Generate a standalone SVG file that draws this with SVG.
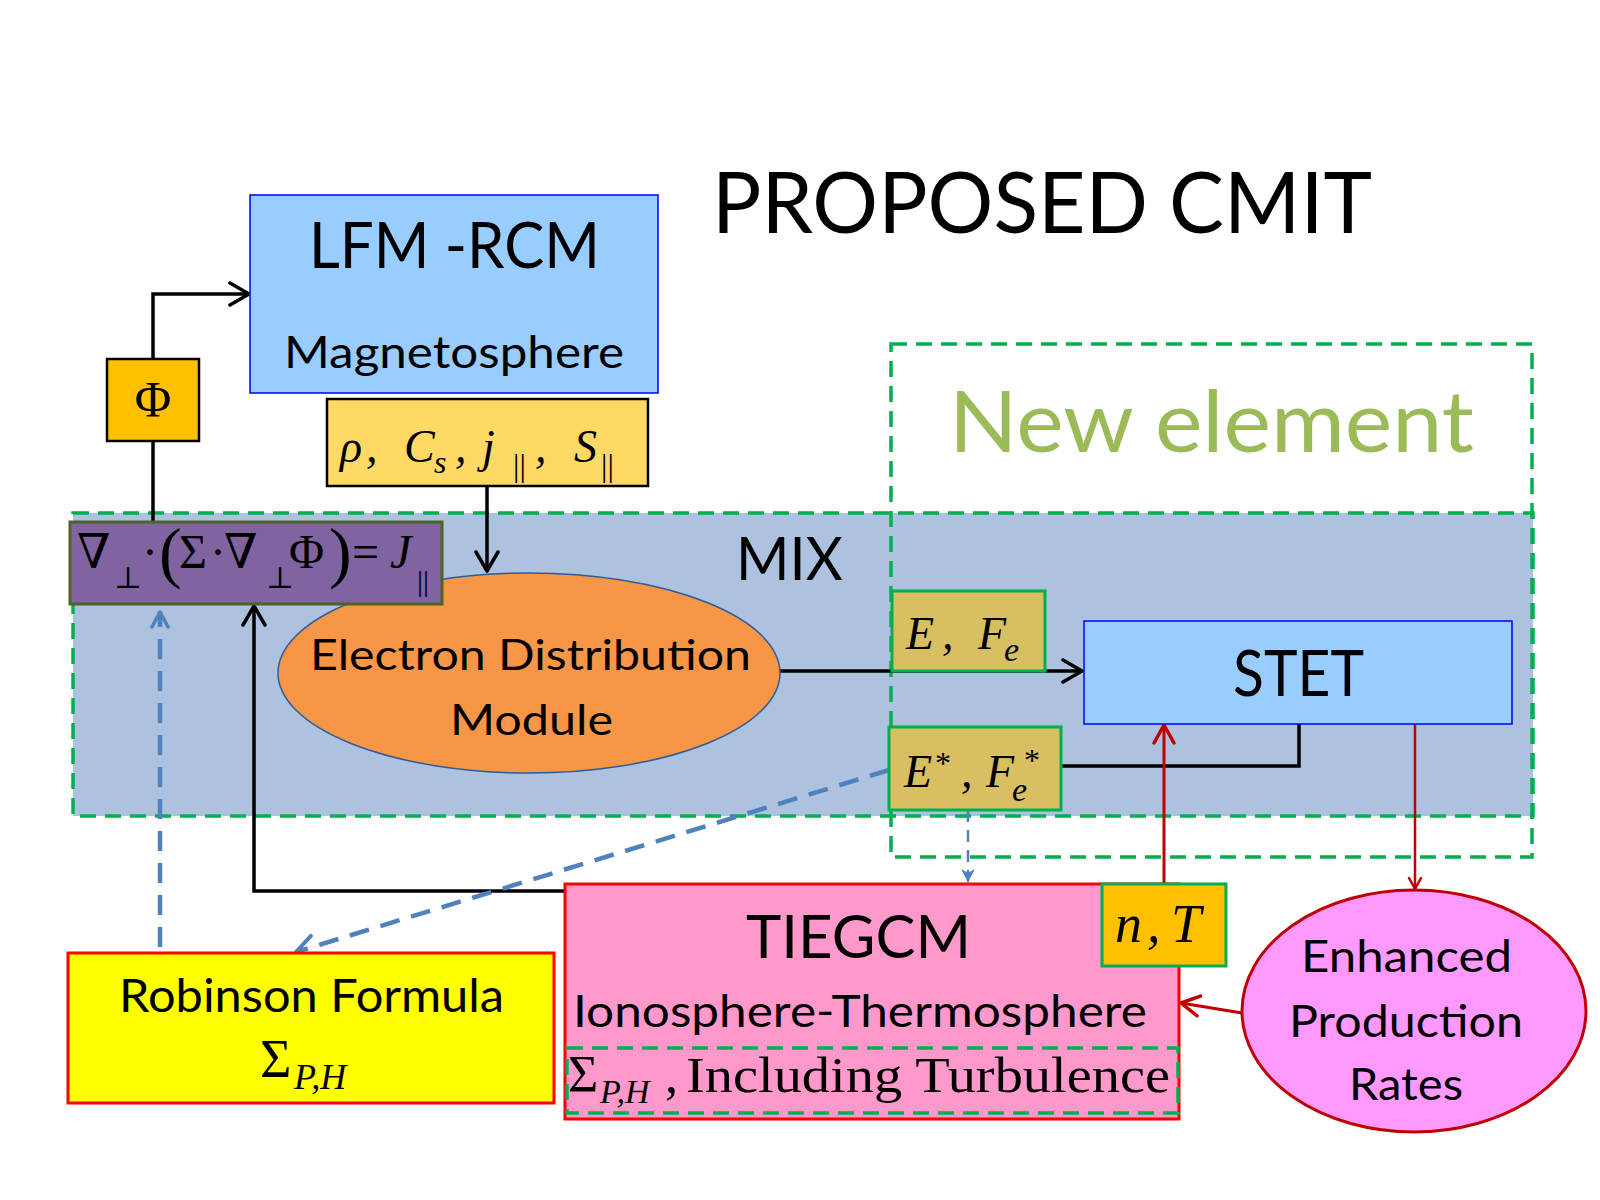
<svg xmlns="http://www.w3.org/2000/svg" width="1600" height="1200" viewBox="0 0 1600 1200">
<style>
.sans{font-family:Lato,"Liberation Sans",sans-serif;fill:#000}
.math{font-family:"Liberation Serif","DejaVu Serif",serif;fill:#000}
.it{font-style:italic}
.bk{fill:none;stroke:#000;stroke-width:3.5}
.rd{fill:none;stroke:#C00000;stroke-width:3}
.bl{fill:none;stroke:#4F81BD;stroke-width:4.5;stroke-dasharray:20 12}
.gdash{fill:none;stroke:#00B050;stroke-width:3.5;stroke-dasharray:16 9}
</style>
<defs>
<marker id="ab" markerUnits="userSpaceOnUse" markerWidth="30" markerHeight="30" refX="22" refY="13" orient="auto">
<path d="M3,2 L22,13 L3,24" fill="none" stroke="#000" stroke-width="3.5" stroke-linecap="round" stroke-linejoin="round"/>
</marker>
<marker id="ar" markerUnits="userSpaceOnUse" markerWidth="30" markerHeight="30" refX="22" refY="13" orient="auto">
<path d="M4,3 L22,13 L4,23" fill="none" stroke="#C00000" stroke-width="3.5" stroke-linecap="round" stroke-linejoin="round"/>
</marker>
<marker id="ars" markerUnits="userSpaceOnUse" markerWidth="20" markerHeight="20" refX="14" refY="8" orient="auto">
<path d="M3,2 L14,8 L3,14" fill="none" stroke="#C00000" stroke-width="2.5" stroke-linecap="round" stroke-linejoin="round"/>
</marker>
<marker id="abl" markerUnits="userSpaceOnUse" markerWidth="30" markerHeight="30" refX="22" refY="13" orient="auto">
<path d="M3,2 L22,13 L3,24" fill="none" stroke="#4F81BD" stroke-width="4" stroke-linecap="round" stroke-linejoin="round"/>
</marker>
<marker id="abls" markerUnits="userSpaceOnUse" markerWidth="24" markerHeight="24" refX="18" refY="10" orient="auto">
<path d="M3,2 L18,10 L3,18" fill="none" stroke="#4F81BD" stroke-width="3.5" stroke-linecap="round" stroke-linejoin="round"/>
</marker>
<marker id="ablf" markerUnits="userSpaceOnUse" markerWidth="20" markerHeight="20" refX="13" refY="7" orient="auto">
<path d="M0,0 L13,7 L0,14 L4,7 Z" fill="#4F81BD"/>
</marker>
</defs>
<rect width="1600" height="1200" fill="#fff"/>

<g id="title"><text class="sans" x="712" y="233" font-size="86" textLength="660" lengthAdjust="spacingAndGlyphs">PROPOSED CMIT</text></g>

<g id="mix">
<rect x="73" y="513" width="1460" height="303" fill="#ACC2DE"/>
<rect class="gdash" x="73" y="513" width="1460" height="303"/>
<text class="sans" x="736" y="580" font-size="60" textLength="107" lengthAdjust="spacingAndGlyphs">MIX</text>
</g>

<g id="new-element">
<rect class="gdash" x="891" y="344" width="641" height="513"/>
<text x="949" y="452" font-size="85" font-family="Lato,'Liberation Sans',sans-serif" fill="#9BBB59" textLength="525" lengthAdjust="spacingAndGlyphs">New element</text>
</g>

<g id="connectors">
<path class="bk" d="M153,359 V294 H249" marker-end="url(#ab)"/>
<path class="bk" d="M153,441 V522"/>
<path class="bk" d="M487,486 V571" marker-end="url(#ab)"/>
<path class="bk" d="M779,671 H1082" marker-end="url(#ab)"/>
<path class="bk" d="M1061,766 H1299 V724"/>
<path class="bk" d="M565,891 H254 V606" marker-end="url(#ab)"/>
<path class="rd" d="M1164,884 V725" marker-end="url(#ar)"/>
<path fill="none" stroke="#C00000" stroke-width="2.5" d="M1415,724 V889" marker-end="url(#ars)"/>
<path class="rd" d="M1242,1013 L1181,1003" marker-end="url(#ar)"/>
<path class="bl" d="M889,770 L296,952" marker-end="url(#abl)"/>
<path class="bl" d="M160,947 V612" marker-end="url(#abls)"/>
<path fill="none" stroke="#4F81BD" stroke-width="2.5" stroke-dasharray="12 8" d="M968,810 V882" marker-end="url(#ablf)"/>
</g>

<g id="lfm-rcm">
<rect x="250" y="195" width="408" height="198" fill="#99CCFF" stroke="#0000FF" stroke-width="1.5"/>
<text class="sans" x="309" y="268" font-size="63" textLength="291" lengthAdjust="spacingAndGlyphs">LFM -RCM</text>
<text class="sans" x="284" y="368" font-size="45" textLength="340" lengthAdjust="spacingAndGlyphs">Magnetosphere</text>
</g>

<g id="phi">
<rect x="107" y="359" width="92" height="82" fill="#FFC000" stroke="#000" stroke-width="2.5"/>
<text class="math" x="153" y="416" font-size="50" text-anchor="middle">Φ</text>
</g>

<g id="params">
<rect x="327" y="399" width="321" height="87" fill="#FFD966" stroke="#000" stroke-width="2.5"/>
<text class="math it" font-size="46"><tspan x="340" y="462">ρ</tspan><tspan x="366" y="462">,</tspan><tspan x="404" y="462">C</tspan><tspan x="434" y="473" font-size="32">s</tspan><tspan x="455" y="462">,</tspan><tspan x="482" y="462">j</tspan><tspan x="513" y="476" font-size="32" font-style="normal">||</tspan><tspan x="535" y="462">,</tspan><tspan x="574" y="462">S</tspan><tspan x="601" y="476" font-size="32" font-style="normal">||</tspan></text>
</g>

<g id="electron-distribution">
<ellipse cx="529" cy="673" rx="251" ry="100" fill="#F79646" stroke="#2E5C9A" stroke-width="1.5"/>
<text class="sans" x="310" y="670" font-size="43" textLength="441" lengthAdjust="spacingAndGlyphs">Electron Distribution</text>
<text class="sans" x="450" y="735" font-size="43" textLength="163" lengthAdjust="spacingAndGlyphs">Module</text>
</g>

<g id="potential-solver">
<rect x="70" y="522" width="372" height="82" fill="#8064A2" stroke="#4F6228" stroke-width="3"/>
<text class="math" font-size="48"><tspan x="77" y="568">∇</tspan><tspan x="114" y="588" font-size="30">⊥</tspan><tspan x="142" y="568">·</tspan><tspan x="159" y="575" font-size="68">(</tspan><tspan x="179" y="568">Σ</tspan><tspan x="210" y="568">·</tspan><tspan x="224" y="568">∇</tspan><tspan x="266" y="588" font-size="30">⊥</tspan><tspan x="289" y="568">Φ</tspan><tspan x="329" y="575" font-size="68">)</tspan><tspan x="352" y="568">=</tspan><tspan x="390" y="568" font-style="italic">J</tspan><tspan x="417" y="591" font-size="30">||</tspan></text>
</g>

<g id="e-fe">
<rect x="892" y="591" width="153" height="80" fill="#D7BF62" stroke="#00B050" stroke-width="3"/>
<text class="math it" font-size="46"><tspan x="906" y="649">E</tspan><tspan x="942" y="649">,</tspan><tspan x="978" y="649">F</tspan><tspan x="1004" y="661" font-size="34">e</tspan></text>
</g>

<g id="stet">
<rect x="1084" y="621" width="428" height="103" fill="#99CCFF" stroke="#0000FF" stroke-width="1.5"/>
<text class="sans" x="1233" y="696" font-size="63" textLength="131" lengthAdjust="spacingAndGlyphs">STET</text>
</g>

<g id="e-fe-star">
<rect x="889" y="727" width="172" height="83" fill="#D7BF62" stroke="#00B050" stroke-width="3"/>
<text class="math it" font-size="46"><tspan x="904" y="787">E</tspan><tspan x="935" y="774" font-size="32" font-style="normal">*</tspan><tspan x="961" y="787">,</tspan><tspan x="986" y="787">F</tspan><tspan x="1012" y="801" font-size="34">e</tspan><tspan x="1024" y="771" font-size="32" font-style="normal">*</tspan></text>
</g>

<g id="robinson">
<rect x="68" y="953" width="486" height="150" fill="#FFFF00" stroke="#FF0000" stroke-width="3"/>
<text class="sans" x="119" y="1012" font-size="47" textLength="385" lengthAdjust="spacingAndGlyphs">Robinson Formula</text>
<text class="math" font-size="54"><tspan x="260" y="1077">Σ</tspan><tspan x="294" y="1089" font-size="36" font-style="italic">P,H</tspan></text>
</g>

<g id="tiegcm">
<rect x="565" y="884" width="614" height="235" fill="#FF99CC" stroke="#FF0000" stroke-width="3"/>
<text class="sans" x="746" y="958" font-size="60" textLength="225" lengthAdjust="spacingAndGlyphs">TIEGCM</text>
<text class="sans" x="573" y="1027" font-size="45" textLength="574" lengthAdjust="spacingAndGlyphs">Ionosphere-Thermosphere</text>
<rect class="gdash" x="567" y="1048" width="611" height="65"/>
<text class="math" font-size="52"><tspan x="568" y="1092">Σ</tspan><tspan x="600" y="1103" font-size="34" font-style="italic">P,H</tspan><tspan x="665" y="1092">,</tspan></text>
<text class="math" x="686" y="1092" font-size="50" textLength="484" lengthAdjust="spacingAndGlyphs">Including Turbulence</text>
</g>

<g id="n-t">
<rect x="1102" y="884" width="124" height="82" fill="#FFC000" stroke="#00B050" stroke-width="3"/>
<text class="math it" font-size="54"><tspan x="1115" y="942">n</tspan><tspan x="1147" y="942">,</tspan><tspan x="1171" y="942">T</tspan></text>
</g>

<g id="enhanced-production">
<ellipse cx="1414" cy="1011" rx="172" ry="121" fill="#FF99FF" stroke="#C00000" stroke-width="3"/>
<text class="sans" x="1301" y="972" font-size="45" textLength="211" lengthAdjust="spacingAndGlyphs">Enhanced</text>
<text class="sans" x="1289" y="1037" font-size="45" textLength="234" lengthAdjust="spacingAndGlyphs">Production</text>
<text class="sans" x="1349" y="1100" font-size="45" textLength="114" lengthAdjust="spacingAndGlyphs">Rates</text>
</g>
</svg>
